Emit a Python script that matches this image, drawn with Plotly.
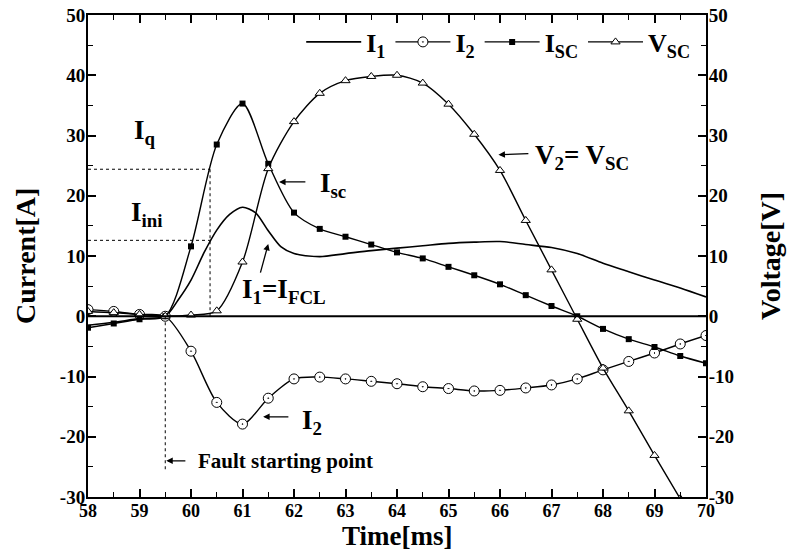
import plotly.graph_objects as go

# ---- data ----
t_half = [58, 58.5, 59, 59.5, 60, 60.5, 61, 61.5, 62, 62.5, 63, 63.5, 64,
          64.5, 65, 65.5, 66, 66.5, 67, 67.5, 68, 68.5, 69, 69.5, 70]
i2 = [1.1, 0.8, 0.3, 0.0, -5.8, -14.3, -17.9, -13.6, -10.4, -10.1, -10.4, -10.8,
      -11.2, -11.7, -12.0, -12.4, -12.3, -11.9, -11.4, -10.4, -8.9, -7.5, -6.1, -4.6, -3.2]
isc = [-1.9, -1.2, -0.5, 0.0, 11.6, 28.5, 35.3, 25.3, 17.2, 14.5, 13.2, 11.9,
       10.6, 9.6, 8.2, 6.8, 5.3, 3.5, 1.7, 0.0, -2.1, -3.8, -5.1, -6.6, -7.8]
t_v = [58, 58.5, 59, 59.5, 60, 60.5, 61, 61.5, 62, 62.5, 63, 63.5, 64,
       64.5, 65, 65.5, 66, 66.5, 67, 67.5, 68, 68.5, 69, 69.5]
vsc = [0.8, 0.6, 0.3, 0.0, 0.2, 0.9, 9.0, 24.5, 32.3, 37.0, 39.1, 39.8, 40.0,
       38.7, 35.2, 30.2, 24.2, 15.9, 7.7, -0.5, -8.6, -15.7, -23.1, -30.3]
t_i1 = [58, 58.5, 59, 59.5, 59.75, 60, 60.25, 60.5, 60.75, 61, 61.25, 61.5, 61.75,
        62, 62.5, 63, 63.5, 64, 64.5, 65, 65.5, 66, 66.5, 67, 67.5, 68, 68.5, 69, 69.5, 70]
i1 = [-1.5, -1.0, -0.4, 0.0, 2.7, 6.0, 10.5, 14.3, 16.9, 18.1, 17.2, 14.2, 11.5,
      10.4, 9.9, 10.4, 10.9, 11.3, 11.7, 12.1, 12.3, 12.4, 11.9, 11.4, 10.4, 8.8, 7.4, 6.0, 4.7, 3.2]

x_ticks = list(range(58, 71))
x_labels = ["<b>%d</b>" % v for v in x_ticks]
y_ticks = list(range(-30, 51, 10))
y_labels = ["<b>%d</b>" % v for v in y_ticks]
t_q = 60.37
i_q = 24.4
i_ini = 12.6

FONT = "Liberation Serif"
K = "black"

fig = go.Figure()
fig.add_trace(go.Scatter(x=t_i1, y=i1, mode="lines", name="<b>I<sub>1</sub></b>",
                         line=dict(color=K, width=1.6, shape="spline", smoothing=0.8)))
fig.add_trace(go.Scatter(x=t_half, y=i2, mode="lines+markers", name="<b>I<sub>2</sub></b>",
                         line=dict(color=K, width=1.4, shape="spline", smoothing=0.8),
                         marker=dict(symbol="circle-dot", size=10, color="white",
                                     line=dict(color=K, width=1))))
fig.add_trace(go.Scatter(x=t_half, y=isc, mode="lines+markers", name="<b>I<sub>SC</sub></b>",
                         line=dict(color=K, width=1.4, shape="spline", smoothing=0.8),
                         marker=dict(symbol="square", size=6, color=K)))
fig.add_trace(go.Scatter(x=t_v, y=vsc, mode="lines+markers", name="<b>V<sub>SC</sub></b>",
                         yaxis="y2",
                         line=dict(color=K, width=1.4, shape="spline", smoothing=0.8),
                         marker=dict(symbol="triangle-up", size=8, color="white",
                                     line=dict(color=K, width=1))))

# dotted guide lines
dot = dict(color=K, width=1, dash="dot")
fig.add_shape(type="line", x0=58, x1=t_q, y0=i_q, y1=i_q, line=dot)
fig.add_shape(type="line", x0=58, x1=t_q, y0=i_ini, y1=i_ini, line=dot)
fig.add_shape(type="line", x0=t_q, x1=t_q, y0=0, y1=i_q, line=dot)
fig.add_shape(type="line", x0=59.5, x1=59.5, y0=0, y1=-25.7, line=dot)

def label(x, y, text, size=27, xanchor="center"):
    fig.add_annotation(x=x, y=y, text="<b>" + text + "</b>", showarrow=False,
                       xanchor=xanchor, yanchor="middle",
                       font=dict(family=FONT, size=size, color=K))

def arrow(x0, y0, x1, y1):
    fig.add_annotation(x=x1, y=y1, ax=x0, ay=y0, axref="x", ayref="y", xref="x", yref="y",
                       text="", showarrow=True, arrowhead=2, arrowsize=1,
                       arrowwidth=1.3, arrowcolor=K)

label(59.1, 30.5, "I<sub>q</sub>")
label(59.15, 17.0, "I<sub>ini</sub>")
label(62.75, 21.8, "I<sub>sc</sub>")
arrow(62.25, 22.3, 61.71, 22.3)
label(61.8, 4.2, "I<sub>1</sub>=I<sub>FCL</sub>")
arrow(61.34, 7.0, 61.5, 12.0)
label(67.6, 26.5, "V<sub>2</sub>= V<sub>SC</sub>")
arrow(66.58, 27.0, 65.97, 26.8)
label(62.35, -17.5, "I<sub>2</sub>")
arrow(61.92, -16.7, 61.4, -16.7)
label(60.1, -24.0, "Fault starting point", size=21, xanchor="left")
arrow(59.92, -24.0, 59.52, -24.0)

# axis titles as paper annotations
fig.add_annotation(xref="paper", yref="paper", x=0.5, y=0, yshift=-39, yanchor="middle",
                   showarrow=False, text="<b>Time[ms]</b>",
                   font=dict(family=FONT, size=27, color=K))
fig.add_annotation(xref="paper", yref="paper", x=0, y=0.5, xshift=-63, xanchor="center",
                   textangle=-90, showarrow=False, text="<b>Current[A]</b>",
                   font=dict(family=FONT, size=28, color=K))
fig.add_annotation(xref="paper", yref="paper", x=1, y=0.5, xshift=64, xanchor="center",
                   textangle=-90, showarrow=False, text="<b>Voltage[V]</b>",
                   font=dict(family=FONT, size=28, color=K))

axis_common = dict(showline=True, linecolor=K, linewidth=2, ticks="inside",
                   ticklen=8, tickwidth=1.5, tickcolor=K, automargin=False,
                   ticklabeloverflow="allow",
                   showgrid=False, zeroline=False)
tickfont_y = dict(family=FONT, size=19, color=K)
tickfont_x = dict(family=FONT, size=18, color=K)

fig.update_layout(
    width=792, height=551,
    margin=dict(l=88, r=86, t=15, b=54, autoexpand=False),
    paper_bgcolor="white", plot_bgcolor="white",
    showlegend=True,
    legend=dict(orientation="h", x=0.345, y=0.944, xanchor="left", yanchor="middle",
                bgcolor="rgba(0,0,0,0)", itemwidth=55,
                font=dict(family=FONT, size=26, color=K)),
    xaxis=dict(range=[58, 70], tickvals=x_ticks, ticktext=x_labels, mirror="ticks",
               ticklabelstandoff=-4, tickfont=tickfont_x,
               minor=dict(dtick=0.5, ticks="inside", ticklen=5, tickcolor=K, tickwidth=1.2),
               **axis_common),
    yaxis=dict(range=[-30, 50], tickvals=y_ticks, ticktext=y_labels,
               ticklabelstandoff=-3, tickfont=tickfont_y,
               minor=dict(dtick=5, ticks="inside", ticklen=5, tickcolor=K, tickwidth=1.2),
               **axis_common),
    yaxis2=dict(range=[-30, 50], tickvals=y_ticks, ticktext=y_labels, overlaying="y",
                side="right", ticklabelstandoff=-3, tickfont=tickfont_y,
                minor=dict(dtick=5, ticks="inside", ticklen=5, tickcolor=K, tickwidth=1.2),
                **axis_common),
)
# zero line at 0
fig.add_shape(type="line", xref="paper", x0=0, x1=1, y0=0, y1=0, line=dict(color=K, width=2))

fig.write_html("out.html", config={"displayModeBar": False},
               post_script="document.body.style.margin='0';")
